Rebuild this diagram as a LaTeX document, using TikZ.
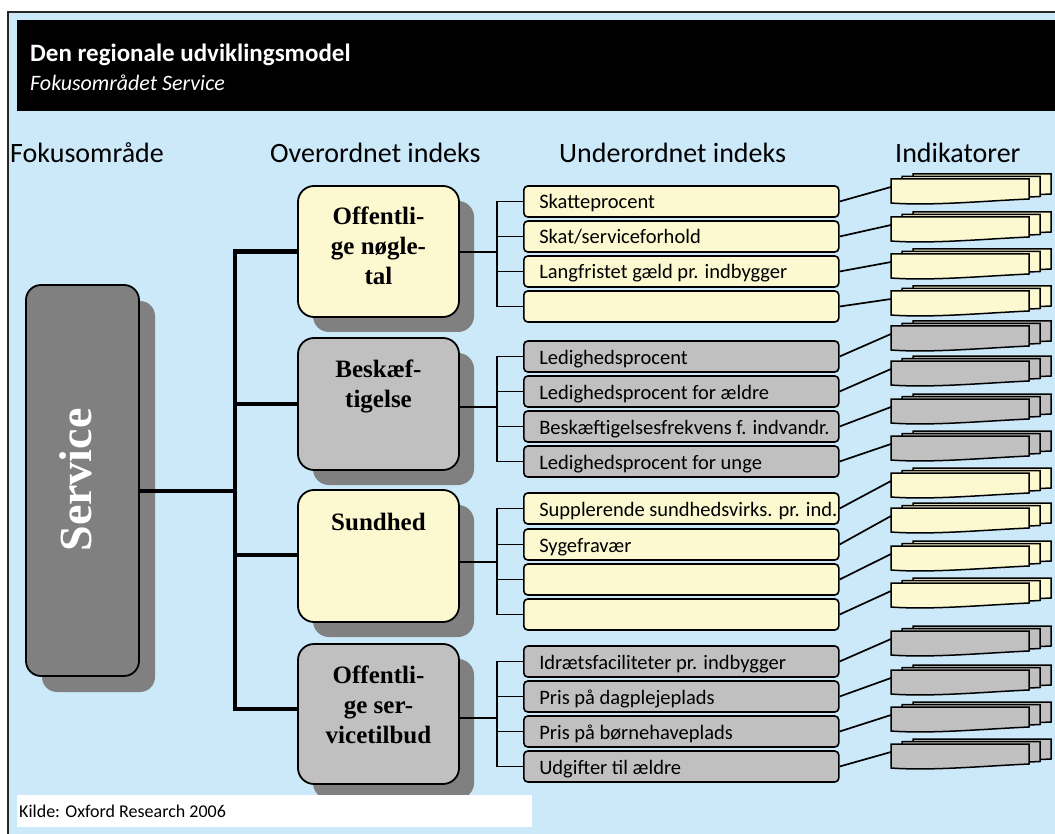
\documentclass[tikz,border=0pt]{standalone}
\usepackage{fontspec}
\setmainfont{Liberation Serif}
\newfontfamily\sansf{Carlito}
\usetikzlibrary{shadows,calc}
\definecolor{bgblue}{RGB}{203,233,249}
\definecolor{yel}{RGB}{252,248,208}
\definecolor{lgray}{RGB}{192,192,192}
\definecolor{dgray}{RGB}{128,128,128}
\tikzset{
 obox/.style={draw=black, line width=1.8pt, rounded corners=16pt, minimum width=161pt, inner sep=0pt,
   drop shadow={shadow xshift=15pt, shadow yshift=-15pt, fill=dgray, opacity=1}},
 otext/.style={font=\bfseries\fontsize{25}{30}\selectfont, align=center, inner sep=0pt, anchor=north},
 sbox/.style={draw=black, line width=1.6pt, rounded corners=4pt, minimum width=315pt, minimum height=31pt,
   inner xsep=15.5pt, inner ysep=0pt, text height=15pt, text depth=0pt, anchor=west,
   font=\sansf\fontsize{20.5}{24}\selectfont},
 hdr/.style={font=\sansf\fontsize{28}{32}\selectfont, anchor=base west, inner sep=0pt},
 bar/.style={line width=4.5pt, line join=miter},
 thinline/.style={line width=1.7pt},
 docline/.style={line width=1.5pt, line join=miter},
}
\newcommand{\mysub}[4]{\node[sbox, fill=#3] (#1) at (523,#2) {\makebox[284pt][l]{#4}};}
\newcommand{\indstack}[3]{%
 \begin{scope}[shift={(891,#2)}]
  \foreach \dx/\dy in {22/-5, 11/-2.5, 0/0} {
   \draw[docline, fill=#3] (\dx,\dy) -- ++(138,0) -- ++(0,20) .. controls +(-45,2) and +(40,3) .. ++(-138,4) -- cycle;
  }
 \end{scope}
 \coordinate (#1) at (891,#2+8);
}
\begin{document}
\begin{tikzpicture}[x=1pt,y=-1pt]
\useasboundingbox (0,0) rectangle (1055,834);
\clip (0,0) rectangle (1055,834);
\fill[white] (0,0) rectangle (1055,834);
\draw[fill=bgblue, draw=black!85, line width=1.5pt] (8,12) rectangle (1075,860);
\fill[black] (17,20) rectangle (1075,111);
\node[font=\sansf\bfseries\fontsize{25}{30}\selectfont, text=white, anchor=base west, inner sep=0pt] (title) at (30,62) {Den regionale udviklingsmodel};
\node[font=\sansf\itshape\fontsize{22}{26}\selectfont, text=white, anchor=base west, inner sep=0pt] (subtitle) at (30,91) {Fokusområdet Service};

\node[hdr] (h1) at (10,163) {Fokusområde};
\node[hdr] (h2) at (270,163) {Overordnet indeks};
\node[hdr] (h3) at (559,163) {Underordnet indeks};
\node[hdr] (h4) at (895,163) {Indikatorer};

% Service
\node[draw=black, line width=1.8pt, fill=dgray, rounded corners=15pt, minimum width=113pt, minimum height=391pt,
  drop shadow={shadow xshift=16pt, shadow yshift=-16pt, fill=dgray, opacity=1}] (sv) at (82.5,480.5) {};
\node[rotate=90, text=white, font=\bfseries\fontsize{46}{50}\selectfont, inner sep=0pt] (svt) at (76,480) {Service};

\coordinate (svc) at (139,491);
\coordinate (barx) at (235,0);
\coordinate (j1) at (298,251.5);
\coordinate (j2) at (298,404);
\coordinate (j3) at (298,555);
\coordinate (j4) at (298,709);
\draw[bar] (svc) -- (svc -| barx);
\draw[bar] (j1) -- (j1 -| barx) -- (j4 -| barx) -- (j4);
\draw[bar] (j2 -| barx) -- (j2);
\draw[bar] (j3 -| barx) -- (j3);

% overordnet boxes
\node[obox, fill=yel, minimum height=131pt] (o1) at (378.5,251.5) {};
\node[obox, fill=lgray, minimum height=132pt] (o2) at (378.5,404) {};
\node[obox, fill=yel, minimum height=132pt] (o3) at (378.5,556) {};
\node[obox, fill=lgray, minimum height=140pt] (o4) at (378.5,714) {};
\node[otext] (o1t) at (378.5,207) {Offentli-\\ge nøgle-\\tal};
\node[otext] (o2t) at (378.5,360) {Beskæf-\\tigelse};
\node[otext] (o3t) at (378.5,513) {Sundhed};
\node[otext] (o4t) at (378.5,666) {Offentli-\\ge ser-\\vicetilbud};

% sub boxes
\mysub{s1}{201.5}{yel}{Skatteprocent}
\mysub{s2}{236.5}{yel}{Skat/serviceforhold}
\mysub{s3}{271.5}{yel}{Langfristet gæld pr. indbygger}
\mysub{s4}{306.5}{yel}{}
\mysub{s5}{356.5}{lgray}{Ledighedsprocent}
\mysub{s6}{391.5}{lgray}{Ledighedsprocent for ældre}
\mysub{s7}{426.5}{lgray}{Beskæftigelsesfrekvens f. indvandr.}
\mysub{s8}{461.5}{lgray}{Ledighedsprocent for unge}
\mysub{s9}{508.5}{yel}{Supplerende sundhedsvirks. pr. ind.}
\mysub{s10}{544.5}{yel}{Sygefravær}
\mysub{s11}{579.5}{yel}{}
\mysub{s12}{614.5}{yel}{}
\mysub{s13}{661.5}{lgray}{Idrætsfaciliteter pr. indbygger}
\mysub{s14}{696.5}{lgray}{Pris på dagplejeplads}
\mysub{s15}{731.5}{lgray}{Pris på børnehaveplads}
\mysub{s16}{766.5}{lgray}{Udgifter til ældre}

% brackets
\coordinate (l1) at (497,252);
\coordinate (l2) at (497,407);
\coordinate (l3) at (497,562);
\coordinate (l4) at (497,718);
\draw[thinline] (l1 -| o1.east) -- (l1);
\draw[thinline] (l2 -| o2.east) -- (l2);
\draw[thinline] (l3 -| o3.east) -- (l3);
\draw[thinline] (l4 -| o4.east) -- (l4);
\draw[thinline] (s1.west) -- (s1.west -| l1) -- (s4.west -| l1) -- (s4.west);
\draw[thinline] (s2.west -| l1) -- (s2.west);
\draw[thinline] (s3.west -| l1) -- (s3.west);
\draw[thinline] (s5.west) -- (s5.west -| l2) -- (s8.west -| l2) -- (s8.west);
\draw[thinline] (s6.west -| l2) -- (s6.west);
\draw[thinline] (s7.west -| l2) -- (s7.west);
\draw[thinline] (s9.west) -- (s9.west -| l3) -- (s12.west -| l3) -- (s12.west);
\draw[thinline] (s10.west -| l3) -- (s10.west);
\draw[thinline] (s11.west -| l3) -- (s11.west);
\draw[thinline] (s13.west) -- (s13.west -| l4) -- (s16.west -| l4) -- (s16.west);
\draw[thinline] (s14.west -| l4) -- (s14.west);
\draw[thinline] (s15.west -| l4) -- (s15.west);

% indicators
\indstack{d1}{179}{yel}
\indstack{d2}{217}{yel}
\indstack{d3}{254}{yel}
\indstack{d4}{291}{yel}
\indstack{d5}{326}{lgray}
\indstack{d6}{361}{lgray}
\indstack{d7}{399}{lgray}
\indstack{d8}{436}{lgray}
\indstack{d9}{473}{yel}
\indstack{d10}{508}{yel}
\indstack{d11}{546}{yel}
\indstack{d12}{583}{yel}
\indstack{d13}{631}{lgray}
\indstack{d14}{670}{lgray}
\indstack{d15}{707}{lgray}
\indstack{d16}{744}{lgray}
\foreach \i in {1,...,16} \draw[thinline] (s\i.east) -- (d\i);

% source
\node[fill=white, minimum width=515pt, minimum height=32pt, anchor=north west, inner sep=0pt] (kbox) at (17,795) {};
\node[font=\sansf\fontsize{18}{21}\selectfont, anchor=base west, inner sep=0pt] (kilde) at (19,817) {Kilde: Oxford Research 2006};
\end{tikzpicture}
\end{document}
